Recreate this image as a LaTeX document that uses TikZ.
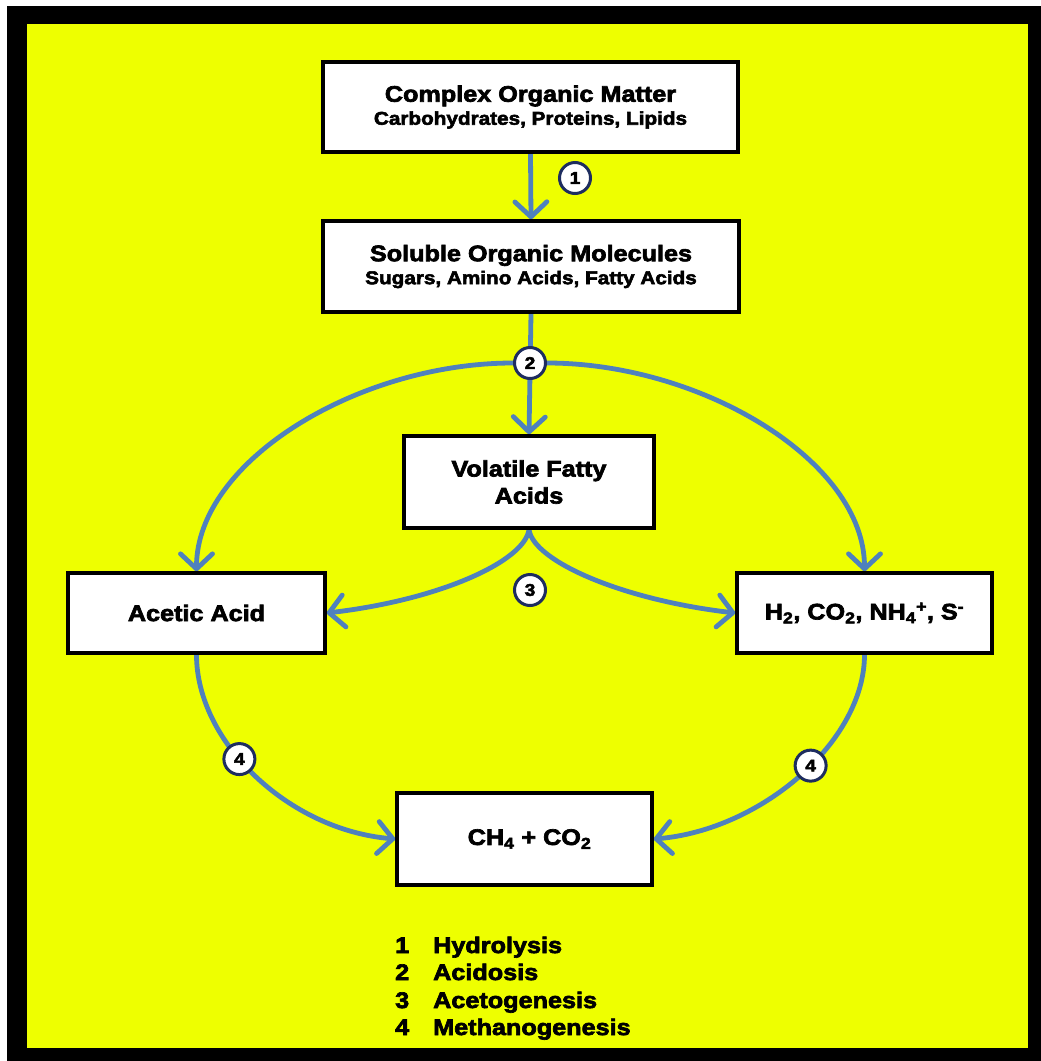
\documentclass[tikz,border=0pt]{standalone}
\usepackage{fontspec}
\setmainfont{Liberation Sans}[FakeStretch=1.12,BoldFeatures={FakeBold=3}]
\usetikzlibrary{arrows.meta}
\definecolor{bgyellow}{RGB}{238,255,0}
\definecolor{flowblue}{RGB}{79,129,189}
\definecolor{ringnavy}{RGB}{30,45,95}
\pgfdeclarelayer{bg}
\pgfdeclarelayer{lines}
\pgfsetlayers{bg,lines,main}
\begin{document}
\begin{tikzpicture}[x=1pt,y=-1pt,
  box/.style={draw=black, line width=3.5pt, fill=white, inner sep=0pt, align=center,
    font=\bfseries\fontsize{22.5pt}{27pt}\selectfont},
  flow/.style={draw=flowblue, line width=4.8pt, -{Straight Barb[length=15pt,width=32pt,round]}},
  badge/.style={circle, draw=ringnavy, line width=3pt, fill=white, minimum size=31pt, inner sep=0pt,
    font=\bfseries\fontsize{17pt}{17pt}\selectfont},
  legend/.style={anchor=base west, inner sep=0pt, font=\bfseries\fontsize{22.5pt}{22.5pt}\selectfont}]
\useasboundingbox (0,0) rectangle (1041,1061);
\begin{pgfonlayer}{bg}
  \fill[white] (0,0) rectangle (1041,1061);
  \fill[black] (7,6) rectangle (1041,1061);
  \fill[bgyellow] (27,24) rectangle (1028,1048);
\end{pgfonlayer}

% boxes
\node[box, minimum width=415pt, minimum height=90pt] (com) at (530.5,107)
  {Complex Organic Matter\\[-4pt]{\fontsize{18.5pt}{20pt}\selectfont Carbohydrates, Proteins, Lipids}};
\node[box, minimum width=416pt, minimum height=91pt] (sol) at (531,266.5)
  {Soluble Organic Molecules\\[-4pt]{\fontsize{18.5pt}{20pt}\selectfont Sugars, Amino Acids, Fatty Acids}};
\node[box, minimum width=250pt, minimum height=92pt] (vfa) at (529,482)
  {Volatile Fatty\\Acids};
\node[box, minimum width=257pt, minimum height=80pt] (ace) at (196.5,613) {Acetic Acid};
\node[box, minimum width=255pt, minimum height=80pt] (gas) at (864.5,613)
  {H\textsubscript{2}, CO\textsubscript{2}, NH\textsubscript{4}\textsuperscript{+}, S\textsuperscript{-}};
\node[box, minimum width=255pt, minimum height=92pt] (met) at (524.5,839)
  {\hspace*{10pt}CH\textsubscript{4} + CO\textsubscript{2}};

% badges
\node[badge] (b1) at (575,178) {1};
\node[badge] (b2) at (530,363) {2};
\node[badge] (b3) at (530,590) {3};

% connectors
\begin{pgfonlayer}{lines}
  \draw[flow] (com.south) -- (sol.north);
  \draw[flow] (sol.south) -- (vfa.north);
  \draw[flow] (b2.west) .. controls +(-155,0) and +(0,-110) .. (ace.north);
  \draw[flow] (b2.east) .. controls +(155,0) and +(0,-110) .. (gas.north);
  \draw[flow] (vfa.south) .. controls +(-5,32) and +(112,-13) .. (ace.east);
  \draw[flow] (vfa.south) .. controls +(5,32) and +(-112,-13) .. (gas.west);
  \draw[flow] (ace.south) .. controls +(0,87) and +(-107,-9) .. (met.west)
    node[badge, pos=0.42] (b4a) {4};
  \draw[flow] (gas.south) .. controls +(0,87) and +(107,-9) .. (met.east)
    node[badge, pos=0.45] (b4b) {4};
\end{pgfonlayer}

% legend
\node[legend] (n1) at (395,953) {1};
\node[legend] (t1) at (433,953) {Hydrolysis};
\node[legend] (n2) at (395,980) {2};
\node[legend] (t2) at (433,980) {Acidosis};
\node[legend] (n3) at (395,1008) {3};
\node[legend] (t3) at (433,1008) {Acetogenesis};
\node[legend] (n4) at (395,1035) {4};
\node[legend] (t4) at (433,1035) {Methanogenesis};
\end{tikzpicture}
\end{document}
